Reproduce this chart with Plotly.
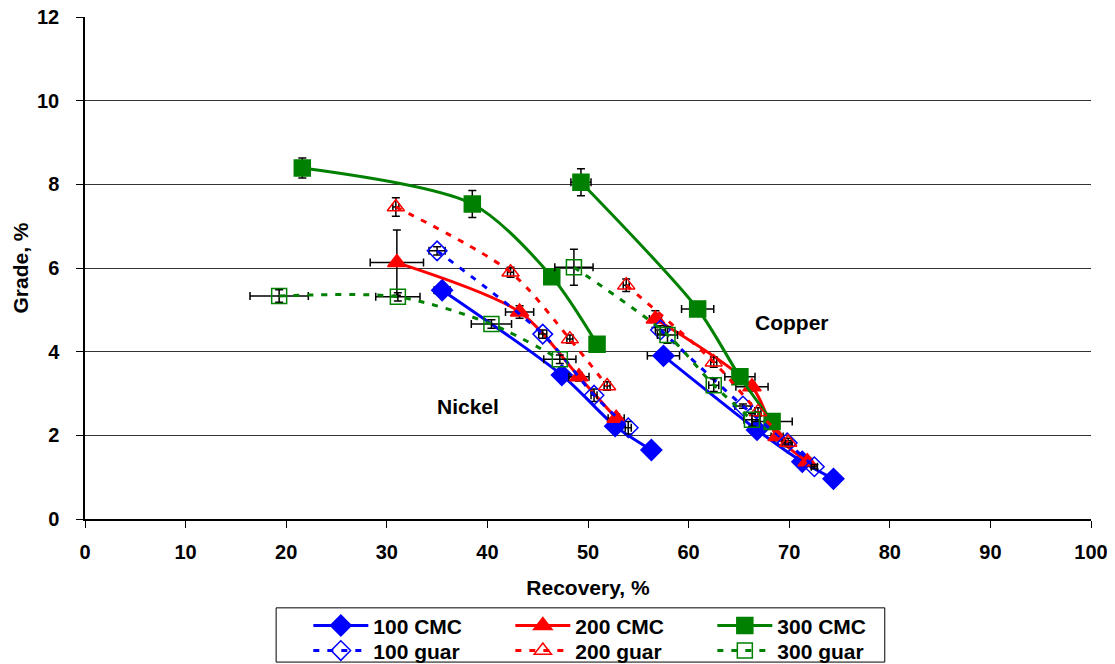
import plotly.graph_objects as go

# ---------------- data (Recovery %, Grade %) ----------------
# Nickel curves
cmc100_ni_x = [35.5, 47.4, 52.7, 56.3]
cmc100_ni_y = [5.47, 3.44, 2.22, 1.65]
cmc100_ni_ex = [0.8, 0.4, 0.4, 0.4]
cmc100_ni_ey = [0.08, 0.05, 0.05, 0.05]

cmc200_ni_x = [31.0, 43.2, 49.1, 52.8]
cmc200_ni_y = [6.13, 4.95, 3.40, 2.41]
cmc200_ni_ex = [2.65, 1.4, 1.0, 0.8]
cmc200_ni_ey = [0.78, 0.15, 0.10, 0.10]

cmc300_ni_x = [21.6, 38.5, 46.4, 50.9]
cmc300_ni_y = [8.39, 7.53, 5.79, 4.18]
cmc300_ni_ex = [0.3, 0.3, 0.3, 0.3]
cmc300_ni_ey = [0.24, 0.32, 0.15, 0.10]

guar100_ni_x = [35.0, 45.5, 50.6, 54.0]
guar100_ni_y = [6.41, 4.42, 2.96, 2.18]
guar100_ni_ex = [0.8, 0.4, 0.3, 0.3]
guar100_ni_ey = [0.10, 0.10, 0.15, 0.15]

guar200_ni_x = [30.9, 42.3, 48.2, 51.9]
guar200_ni_y = [7.46, 5.90, 4.30, 3.18]
guar200_ni_ex = [0.3, 0.3, 0.3, 0.3]
guar200_ni_ey = [0.22, 0.12, 0.10, 0.10]

guar300_ni_x = [19.3, 31.1, 40.4, 47.2]
guar300_ni_y = [5.33, 5.31, 4.66, 3.82]
guar300_ni_ex = [2.9, 2.2, 2.0, 1.6]
guar300_ni_ey = [0.15, 0.10, 0.10, 0.10]

# Copper curves
cmc100_cu_x = [57.5, 66.8, 71.3, 74.4]
cmc100_cu_y = [3.90, 2.13, 1.37, 0.96]
cmc100_cu_ex = [1.6, 0.5, 0.5, 0.4]
cmc100_cu_ey = [0.05, 0.05, 0.05, 0.05]

cmc200_cu_x = [56.7, 66.3, 68.8, 71.8]
cmc200_cu_y = [4.78, 3.16, 1.97, 1.37]
cmc200_cu_ex = [0.6, 1.6, 0.6, 0.5]
cmc200_cu_ey = [0.20, 0.10, 0.10, 0.10]

cmc300_cu_x = [49.3, 60.9, 65.1, 68.3]
cmc300_cu_y = [8.05, 5.02, 3.40, 2.33]
cmc300_cu_ex = [1.0, 1.6, 1.5, 2.0]
cmc300_cu_ey = [0.32, 0.10, 0.10, 0.10]

guar100_cu_x = [57.2, 65.4, 69.8, 72.5]
guar100_cu_y = [4.52, 2.70, 1.82, 1.25]
guar100_cu_ex = [0.5, 0.8, 0.5, 0.3]
guar100_cu_ey = [0.10, 0.05, 0.05, 0.05]

guar200_cu_x = [53.8, 62.5, 66.9, 69.9]
guar200_cu_y = [5.59, 3.75, 2.56, 1.83]
guar200_cu_ex = [0.3, 0.3, 0.3, 0.3]
guar200_cu_ey = [0.15, 0.12, 0.10, 0.10]

guar300_cu_x = [48.6, 57.9, 62.5, 66.3]
guar300_cu_y = [6.02, 4.40, 3.20, 2.37]
guar300_cu_ex = [1.9, 1.0, 0.5, 0.8]
guar300_cu_ey = [0.43, 0.20, 0.15, 0.15]

x_ticks = [0, 10, 20, 30, 40, 50, 60, 70, 80, 90, 100]
y_ticks = [0, 2, 4, 6, 8, 10, 12]

FONT = "Liberation Sans, Arial, sans-serif"

series = [
    # name, legend, color, symbol, dash, ni data, cu data
    ("100 CMC", "legend", "#0000FF", "diamond", "solid",
     (cmc100_ni_x, cmc100_ni_y, cmc100_ni_ex, cmc100_ni_ey),
     (cmc100_cu_x, cmc100_cu_y, cmc100_cu_ex, cmc100_cu_ey)),
    ("200 CMC", "legend", "#FF0000", "triangle-up", "solid",
     (cmc200_ni_x, cmc200_ni_y, cmc200_ni_ex, cmc200_ni_ey),
     (cmc200_cu_x, cmc200_cu_y, cmc200_cu_ex, cmc200_cu_ey)),
    ("300 CMC", "legend", "#008000", "square", "solid",
     (cmc300_ni_x, cmc300_ni_y, cmc300_ni_ex, cmc300_ni_ey),
     (cmc300_cu_x, cmc300_cu_y, cmc300_cu_ex, cmc300_cu_ey)),
    ("100 guar", "legend2", "#0000FF", "diamond-open", "6px,8px",
     (guar100_ni_x, guar100_ni_y, guar100_ni_ex, guar100_ni_ey),
     (guar100_cu_x, guar100_cu_y, guar100_cu_ex, guar100_cu_ey)),
    ("200 guar", "legend2", "#FF0000", "triangle-up-open", "6px,8px",
     (guar200_ni_x, guar200_ni_y, guar200_ni_ex, guar200_ni_ey),
     (guar200_cu_x, guar200_cu_y, guar200_cu_ex, guar200_cu_ey)),
    ("300 guar", "legend2", "#008000", "square-open", "6px,8px",
     (guar300_ni_x, guar300_ni_y, guar300_ni_ex, guar300_ni_ey),
     (guar300_cu_x, guar300_cu_y, guar300_cu_ex, guar300_cu_ey)),
]

fig = go.Figure()
for name, leg, color, symbol, dash, ni, cu in series:
    is_open = symbol.endswith("open")
    msize = 15 if is_open else 16
    for i, (xs, ys, exs, eys) in enumerate((ni, cu)):
        fig.add_trace(go.Scatter(
            x=xs, y=ys, name="<b>%s</b>" % name, legend=leg, legendgroup=name,
            showlegend=(i == 0),
            mode="lines+markers",
            line=dict(color=color, width=3, dash=dash, shape="spline", smoothing=0.8),
            marker=dict(symbol=symbol, size=msize, color=color,
                        line=dict(color=color, width=1.5)),
            error_x=dict(type="data", array=exs, visible=True, color="black",
                         thickness=1.5, width=4),
            error_y=dict(type="data", array=eys, visible=True, color="black",
                         thickness=1.5, width=4),
        ))

fig.add_annotation(x=38.1, y=2.68, text="<b>Nickel</b>", showarrow=False,
                   font=dict(family=FONT, size=21, color="black"))
fig.add_annotation(x=70.3, y=4.69, text="<b>Copper</b>", showarrow=False,
                   font=dict(family=FONT, size=21, color="black"))

# legend frame
fig.add_shape(type="rect", xref="paper", yref="paper",
              x0=0.19, x1=0.795, y0=-0.285, y1=-0.177,
              line=dict(color="black", width=1), fillcolor="rgba(0,0,0,0)")

legend_common = dict(orientation="h", xanchor="left", yanchor="top",
                     font=dict(family=FONT, size=21, color="black"),
                     bgcolor="rgba(0,0,0,0)", borderwidth=0,
                     entrywidth=132, itemwidth=55, tracegroupgap=0)

fig.update_layout(
    width=1107, height=656,
    margin=dict(l=77, r=24, t=9, b=145, autoexpand=False),
    paper_bgcolor="white", plot_bgcolor="white",
    font=dict(family=FONT, size=16, color="black"),
    showlegend=True,
    legend=dict(x=0.222, y=-0.172, **legend_common),
    legend2=dict(x=0.222, y=-0.222, **legend_common),
    xaxis=dict(range=[0, 100], tickvals=x_ticks,
               ticktext=["<b>%d</b>" % v for v in x_ticks],
               ticks="outside", ticklen=7, automargin=False,
               ticklabeloverflow="allow",
               tickcolor="black", showgrid=False, zeroline=False,
               showline=True, linecolor="black", linewidth=1.5,
               tickfont=dict(family=FONT, size=20, color="black"),
               ticklabelstandoff=7,
               title=dict(text="<b>Recovery, %</b>", standoff=19,
                          font=dict(family=FONT, size=21, color="black"))),
    yaxis=dict(range=[0, 12], tickvals=y_ticks,
               ticktext=["<b>%d</b>" % v for v in y_ticks],
               ticks="outside", ticklen=7, automargin=False,
               ticklabeloverflow="allow",
               tickcolor="black", showgrid=True, gridcolor="#333333", gridwidth=1,
               zeroline=False, showline=True, linecolor="black", linewidth=1.5,
               tickfont=dict(family=FONT, size=20, color="black"),
               ticklabelstandoff=13,
               title=dict(text="<b>Grade, %</b>", standoff=3,
                          font=dict(family=FONT, size=21, color="black"))),
)

fig.write_html("out.html")
